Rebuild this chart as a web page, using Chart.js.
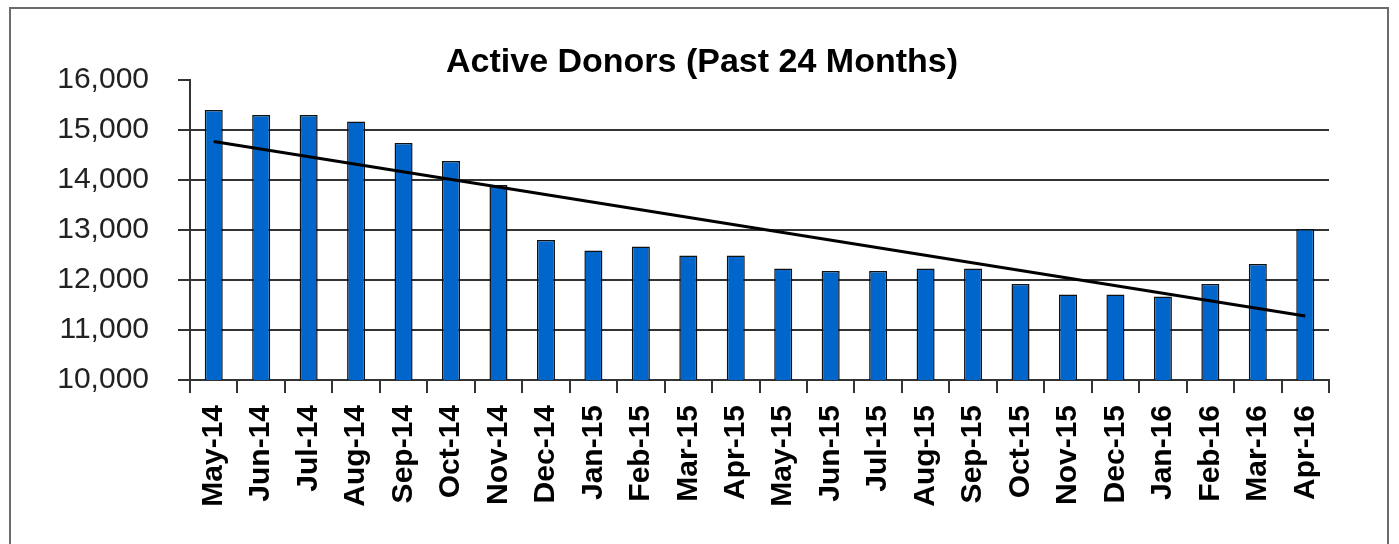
<!DOCTYPE html>
<html>
<head>
<meta charset="utf-8">
<script src="https://cdn.jsdelivr.net/npm/chart.js@4"></script>
<style>
  html, body { margin: 0; padding: 0; background: #fff; overflow: hidden; }
  #wrap { position: relative; width: 1399px; height: 544px; }
  #frame {
    position: absolute; left: 9px; top: 7px; width: 1380px; height: 600px;
    border: 2px solid #6b6b6b; box-sizing: border-box; pointer-events: none;
  }
</style>
</head>
<body>
<div id="wrap">
  <canvas id="Chart" width="1399" height="544"></canvas>
  <div id="frame"></div>
</div>
<script>
let months = ['May-14','Jun-14','Jul-14','Aug-14','Sep-14','Oct-14','Nov-14','Dec-14',
              'Jan-15','Feb-15','Mar-15','Apr-15','May-15','Jun-15','Jul-15','Aug-15',
              'Sep-15','Oct-15','Nov-15','Dec-15','Jan-16','Feb-16','Mar-16','Apr-16'];

let donors = [15400,15300,15300,15170,14740,14380,13900,12800,
              12590,12670,12490,12490,12230,12180,12180,12230,
              12230,11920,11710,11710,11670,11920,12320,13020];

// trend line: start and end only
let trend = [14770,null,null,null,null,null,null,null,
             null,null,null,null,null,null,null,null,
             null,null,null,null,null,null,null,11280];

let yTicks = [10000,11000,12000,13000,14000,15000,16000];

let chartTitle = 'Active Donors (Past 24 Months)';

// title sits centred on the whole frame, not the plot area
let titlePlugin = {
    id: 'frameTitle',
    afterDraw: function(chart) {
        let ctx = chart.ctx;
        ctx.save();
        ctx.font = 'bold 34px "Liberation Sans"';
        ctx.fillStyle = '#000';
        ctx.textAlign = 'center';
        ctx.textBaseline = 'alphabetic';
        ctx.fillText(chartTitle, 702, 72);
        ctx.restore();
    }
};

let graph = document.getElementById('Chart');

let chartData = {
    type: 'bar',
    data: {
        labels: months,
        datasets: [
            {
                type: 'line',
                label: 'Trend',
                data: trend,
                spanGaps: true,
                borderColor: '#000',
                borderWidth: 3,
                pointRadius: 0,
                order: 0
            },
            {
                label: 'Active Donors',
                data: donors,
                backgroundColor: '#0066cc',
                borderColor: '#111',
                borderWidth: 1.5,
                categoryPercentage: 1,
                barPercentage: 0.38,
                order: 1
            }
        ]
    },
    options: {
        responsive: false,
        animation: false,
        layout: { padding: { left: 0, right: 70, top: 80, bottom: 0 } },
        plugins: {
            legend: { display: false },
            tooltip: { enabled: false },
            title: { display: false }
        },
        scales: {
            x: {
                grid: {
                    offset: true,
                    drawOnChartArea: false,
                    drawTicks: true,
                    tickLength: 13,
                    tickColor: '#333',
                    lineWidth: 2
                },
                border: { display: true, color: '#333', width: 2 },
                ticks: {
                    maxRotation: 90,
                    minRotation: 90,
                    autoSkip: false,
                    padding: 12,
                    color: '#000',
                    font: { family: 'Liberation Sans', size: 30, weight: 'bold' }
                },
                afterFit: function(scale) { scale.height = 164; }
            },
            y: {
                min: 10000,
                max: 16000,
                afterBuildTicks: function(scale) {
                    scale.ticks = yTicks.map(v => ({ value: v }));
                },
                grid: {
                    color: function(ctx) {
                        return ctx.tick && ctx.tick.value === 16000 ? 'rgba(0,0,0,0)' : '#333';
                    },
                    tickColor: '#333',
                    lineWidth: 2,
                    tickLength: 12
                },
                border: { display: true, color: '#333', width: 2 },
                ticks: {
                    padding: 29,
                    color: '#222',
                    font: { family: 'Liberation Sans', size: 30 },
                    callback: function(v) { return v.toLocaleString('en-US'); }
                },
                afterFit: function(scale) { scale.width = 190; }
            }
        }
    },
    plugins: [titlePlugin]
};

let presentdata = new Chart(graph, chartData);
</script>
</body>
</html>
